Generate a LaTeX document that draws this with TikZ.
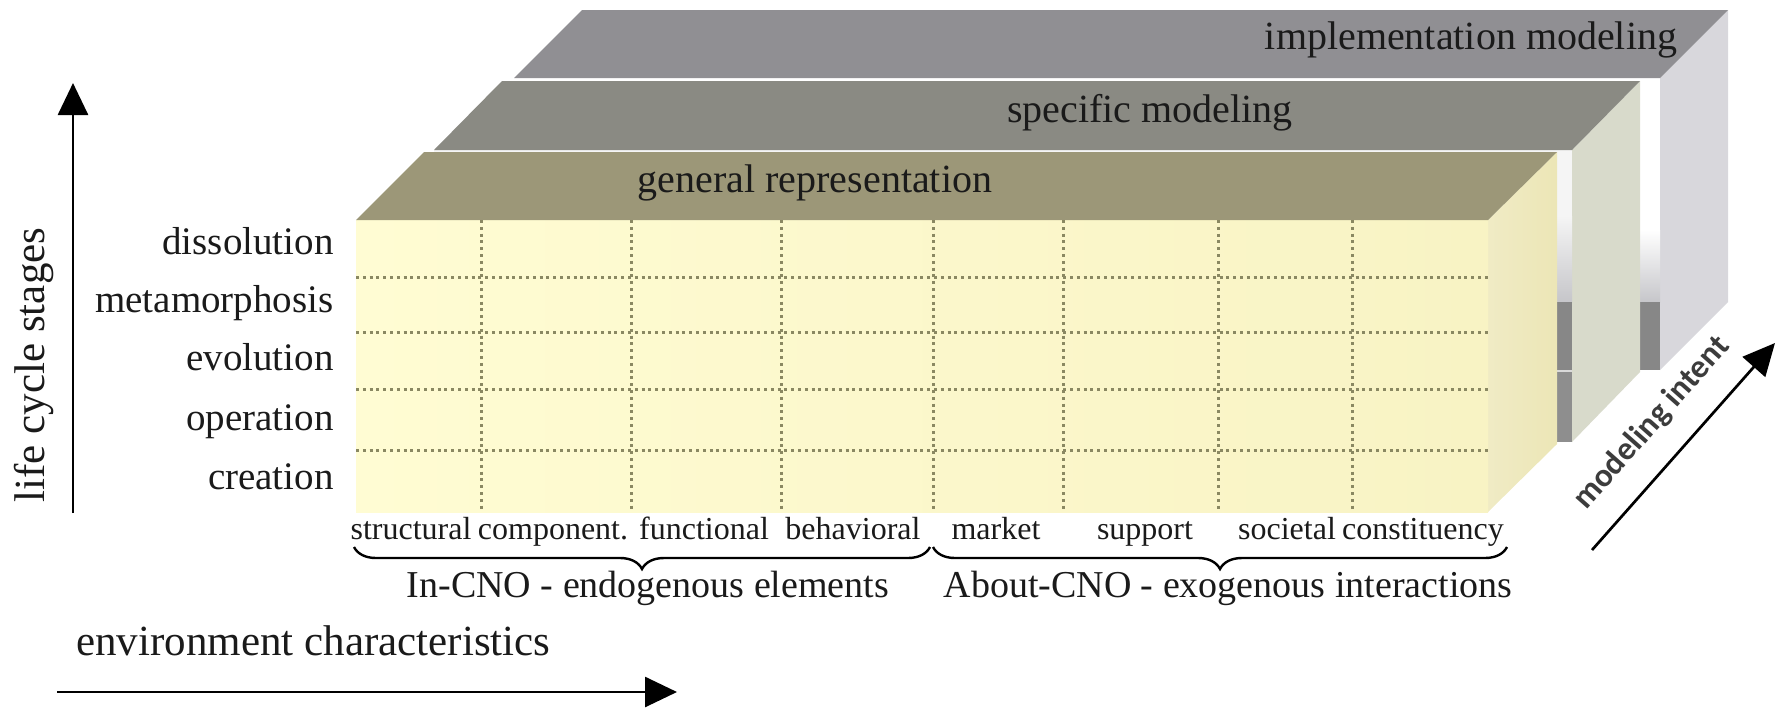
\documentclass[tikz,border=0pt]{standalone}
\usepackage{fontspec}
\setmainfont{Liberation Serif}
\newfontfamily\carlitofont{Carlito}
\usetikzlibrary{arrows.meta,decorations.pathreplacing}
\definecolor{implTop}{HTML}{908F93}
\definecolor{implSide}{HTML}{D8D7DC}
\definecolor{specTop}{HTML}{8A8A83}
\definecolor{specSide}{HTML}{D8DACB}
\definecolor{genTop}{HTML}{9C9778}
\definecolor{genSide}{HTML}{ECE6B6}
\definecolor{genFrontL}{HTML}{FFFCD3}
\definecolor{genFrontR}{HTML}{F8F3C4}
\definecolor{stripLight}{HTML}{C6C6CA}
\definecolor{stripDark}{HTML}{878787}
\definecolor{stripMid}{HTML}{8E8E8E}
\definecolor{gridcol}{HTML}{8A8862}
\definecolor{inkcol}{HTML}{1A1A1A}
\tikzset{
  gridline/.style={gridcol,line width=1.5pt,dash pattern=on 1.5pt off 1.9pt},
  txt/.style={inner sep=0pt,text=inkcol,text height=0.72em,text depth=0.22em},
  rowlab/.style={txt,anchor=east,font=\fontsize{19.5}{23}\selectfont},
  collab/.style={txt,font=\fontsize{16}{19}\selectfont},
  toplab/.style={txt,font=\fontsize{20}{24}\selectfont},
  grouplab/.style={txt,font=\fontsize{19}{23}\selectfont},
  axislab/.style={txt,font=\fontsize{21.5}{25}\selectfont},
  bigarrow/.style={line width=1.35pt,-{Triangle[length=16pt,width=15pt]}},
  bracestyle/.style={line width=1.2pt,decorate,decoration={brace,amplitude=11pt,mirror}}
}
\begin{document}
\begin{tikzpicture}[x=0.5pt,y=-0.5pt]
\useasboundingbox (0,0) rectangle (1785,708);
% implementation modeling slab
\fill[implSide] (1660,78) -- (1728,10) -- (1728,302) -- (1660,370) -- cycle;
\fill[white] (514,78) rectangle (1660,232);
\shade[top color=white,bottom color=stripLight] (514,230) rectangle (1660,302);
\fill[stripDark] (514,302) rectangle (1660,370);
\fill[implTop] (514,78) -- (582,10) -- (1728,10) -- (1660,78) -- cycle;
\node[toplab] (impl) at (1471,44) {implementation modeling};
% specific modeling slab
\fill[specSide] (1572,150) -- (1640,81) -- (1640,372) -- (1572,442) -- cycle;
\fill[white!96!black] (434,150) rectangle (1572,218);
\shade[top color=white!96!black,bottom color=stripLight] (434,216) rectangle (1572,302);
\fill[stripDark] (434,302) rectangle (1572,370);
\fill[white!85!black] (434,370) rectangle (1572,372);
\fill[stripMid] (434,372) rectangle (1572,442);
\fill[specTop] (434,150) -- (502,81) -- (1640,81) -- (1572,150) -- cycle;
\node[toplab] (spec) at (1150,117) {specific modeling};
% general representation slab
\shade[left color=genSide!80!white,right color=genSide] (1488,220) -- (1557,152) -- (1557,444) -- (1488,512) -- cycle;
\shade[left color=genFrontL,right color=genFrontR] (356,220) rectangle (1488,512);
\fill[genTop] (356,220) -- (424,152) -- (1557,152) -- (1488,220) -- cycle;
\node[toplab] (gen) at (815,187) {general representation};
% grid
\foreach \x in {481,631,781,933,1063,1218,1352} \draw[gridline] (\x,220) -- (\x,512);
\foreach \y in {277,332,389,450} \draw[gridline] (356,\y) -- (1488,\y);
% row labels
\node[rowlab] (dissolution) at (334,249) {dissolution};
\node[rowlab] (metamorphosis) at (334,307) {metamorphosis};
\node[rowlab] (evolution) at (334,365) {evolution};
\node[rowlab] (operation) at (334,425) {operation};
\node[rowlab] (creation) at (334,484) {creation};
% column labels
\node[collab] (structural) at (411,534) {structural};
\node[collab] (component) at (553,534) {component.};
\node[collab] (functional) at (704,534) {functional};
\node[collab] (behavioral) at (853,534) {behavioral};
\node[collab] (market) at (996,534) {market};
\node[collab] (support) at (1145,534) {support};
\node[collab] (societal) at (1287,534) {societal};
\node[collab] (constituency) at (1423,534) {constituency};
% braces
\coordinate (b1a) at (354,547);
\coordinate (b1b) at (930,547);
\coordinate (b2a) at (933,547);
\coordinate (b2b) at (1507,547);
\draw[bracestyle] (b1a) -- (b1b);
\draw[bracestyle] (b2a) -- (b2b);
\node[grouplab] (endo) at (648,592) {In-CNO - endogenous elements};
\node[grouplab] (exo) at (1228,592) {About-CNO - exogenous interactions};
% axes
\node[axislab,anchor=west] (env) at (76,650) {environment characteristics};
\coordinate (hA) at (57,692);
\coordinate (hB) at (677,692);
\draw[bigarrow] (hA) -- (hB);
\node[axislab,rotate=90] (life) at (40,365) {life cycle stages};
\coordinate (vA) at (73,513);
\coordinate (vB) at (73,83);
\draw[bigarrow] (vA) -- (vB);
\node[inner sep=0pt,rotate=48.5,text=inkcol!85!white,font=\carlitofont\bfseries\fontsize{16.5}{19}\selectfont] (intent) at (1652,423) {modeling intent};
\coordinate (mA) at (1592,550);
\coordinate (mB) at (1775,343);
\draw[bigarrow] (mA) -- (mB);
\end{tikzpicture}
\end{document}
